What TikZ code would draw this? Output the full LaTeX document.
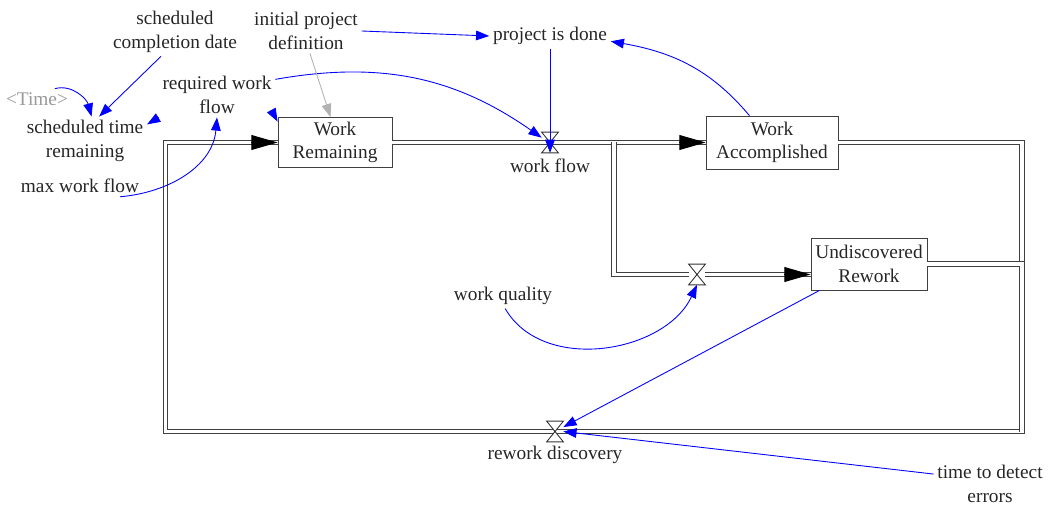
\documentclass[tikz,border=0pt]{standalone}
\usepackage{fontspec}
\setmainfont{Liberation Serif}
\usetikzlibrary{arrows.meta,positioning}

\tikzset{
	stock/.style = {draw = black!75, line width = .45pt, align = center, inner sep = 0, text = black!85},
	aux/.style = {align = center, inner sep = 2pt, text = black!85},
	shadow/.style = {aux, text = black!40},
	valve/.style = {inner sep = 0, minimum width = .32cm, minimum height = .4cm},
	pipe/.style = {draw = black!75, double = white, double distance = 2pt, line width = .6pt},
	pipetip/.style = {draw = black, line width = .6pt, -{Triangle[length = 15pt, width = 8.5pt]}},
	link/.style = {draw = blue, line width = .5pt, -{Triangle[length = 7.5pt, width = 5.5pt]}}
}

\begin{document}
\begin{tikzpicture}[x = .02cm, y = .02cm, font = \fontsize{11}{13.4}\selectfont]
	\useasboundingbox (0, 0) rectangle (1053, -506);
	\def\valve{node [valve] }

	% stocks
	\node [stock, minimum width = 2.28cm, minimum height = 1cm] (wr) at (335, -142.5) {Work\\Remaining};
	\node [stock, minimum width = 2.64cm, minimum height = 1.06cm] (wa) at (772, -142.5) {Work\\Accomplished};
	\node [stock, minimum width = 2.32cm, minimum height = 1.04cm] (ur) at (869, -264) {Undiscovered\\Rework};

	% variables
	\node [shadow] (time) at (37, -99) {<Time>};
	\node [aux] (scd) at (175, -32) {scheduled\\completion date};
	\node [aux] (ipd) at (306, -31) {initial project\\definition};
	\node [aux] (pid) at (550, -36) {project is done};
	\node [aux] (rwf) at (217, -95) {required work\\flow};
	\node [aux] (str) at (85, -141) {scheduled time\\remaining};
	\node [aux] (mwf) at (80, -186) {max work flow};
	\node [aux] (wq) at (503, -296) {work quality};
	\node [aux] (tde) at (990, -484) {time to detect\\errors};

	% valves
	\path (550, -142.5) \valve (wflow) {};
	\path (697, -274.5) \valve (rflow) {};
	\path (555, -431.5) \valve (rdisc) {};
	\node [aux, below = 1pt of wflow] (wflowtxt) {work flow};
	\node [aux, below = 0pt of rdisc] (rdisctxt) {rework discovery};

	% pipes
	\coordinate (split) at (614, -142.5);
	\coordinate (urin) at (rflow -| ur.west);
	\coordinate (se) at (1022, -431.5);
	\coordinate (sw) at (165.5, -431.5);
	\draw [pipe] (wr.east) -- (wa.west);
	\draw [pipe] (split) |- (rflow) -- (urin);
	\draw [pipe] (wa.east) -| (se) -- (sw) |- (wr.west);
	\draw [pipe] (ur.east) -| (se);
	\draw [pipetip] ([xshift = -15pt]wr.west) -- (wr.west);
	\draw [pipetip] ([xshift = -15pt]wa.west) -- (wa.west);
	\draw [pipetip] ([xshift = -15pt]urin) -- (urin);
	\foreach \v in {wflow, rflow, rdisc}
		\draw [black!80, fill = white, line width = .5pt] (\v.north west) -- (\v.north east) -- (\v.south west) -- (\v.south east) -- cycle;

	% links
	\draw [link] (time.30) to [out = 15, in = 105] (str.75);
	\draw [link] (scd.240) -- (str.60);
	\draw [link] (rwf.south west) -- (str.15);
	\draw [link] (rwf.south east) -- (wr.160);
	\draw [link] (mwf.-15) to [out = 5, in = -95] (rwf.south);
	\draw [link] (rwf.15) to [out = 10, in = 145] (wflow.150);
	\draw [link, draw = black!30] (ipd.-80) -- (wr.100);
	\draw [link] (ipd.east) -- (pid.west);
	\draw [link] (pid.south) -- (wflow.south);
	\draw [link] (wa.130) to [out = 130, in = -10] (pid.-5);
	\draw [link] (wq.-80) to [out = -60, in = -115] (rflow.south);
	\draw [link] (ur) -- (rdisc);
	\draw [link] (tde.170) -- (rdisc.east);
\end{tikzpicture}
\end{document}
